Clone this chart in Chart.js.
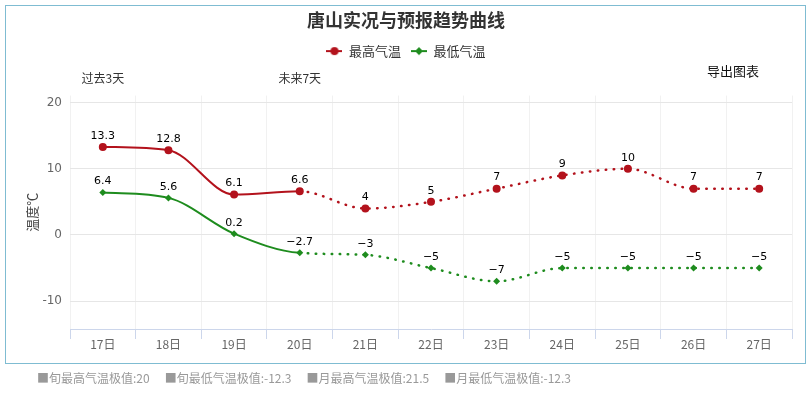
<!DOCTYPE html>
<html lang="zh">
<head>
<meta charset="utf-8">
<title>唐山实况与预报趋势曲线</title>
<script src="https://cdn.jsdelivr.net/npm/chart.js@4.4.1/dist/chart.umd.min.js"></script>
<style>
  html, body { margin: 0; padding: 0; background: #fff; }
  #wrap { position: relative; width: 812px; height: 393px; overflow: hidden; }
  #frame { position: absolute; left: 5px; top: 5px; width: 799px; height: 357px; border: 1px solid #7fbcd2; }
  #box { position: absolute; left: 0; top: 0; width: 812px; height: 393px; }
  #export { position: absolute; left: 707px; top: 61px; font: 13px "Noto Sans CJK SC", sans-serif; color: #111; }
  #notes { position: absolute; left: 37px; top: 369px; font: 12px "Noto Sans CJK SC", sans-serif; color: #999; white-space: nowrap; }
  #notes span { margin-right: 15px; }
</style>
</head>
<body>
<div id="wrap">
  <div id="frame"></div>
  <div id="box"><canvas id="myChart"></canvas></div>
  <div id="export">导出图表</div>
  <div id="notes"></div>
</div>
<script>
// 数据
const days = ['17日', '18日', '19日', '20日', '21日', '22日', '23日', '24日', '25日', '26日', '27日'];
const periodMarks = ['过去3天', '', '', '未来7天', '', '', '', '', '', '', ''];
const highTemps = [13.3, 12.8, 6.1, 6.6, 4, 5, 7, 9, 10, 7, 7];
const lowTemps = [6.4, 5.6, 0.2, -2.7, -3, -5, -7, -5, -5, -5, -5];
const yTicks = [-10, 0, 10, 20];
const observedCount = 4; // 17~20日实况，之后为预报(虚线)
const extremeNotes = ['旬最高气温极值:20', '旬最低气温极值:-12.3', '月最高气温极值:21.5', '月最低气温极值:-12.3'];

const RED = '#b3121c';
const GREEN = '#1e8c1e';
const CJK = '"Noto Sans CJK SC", sans-serif';

document.getElementById('notes').innerHTML =
    extremeNotes.map(t => '<span>■' + t + '</span>').join('');

Chart.defaults.font.family = CJK;

// 图例小图标：一段线加标记
function legendIcon(color, shape) {
    const c = document.createElement('canvas');
    c.width = 16; c.height = 10;
    const g = c.getContext('2d');
    g.strokeStyle = color;
    g.lineWidth = 2;
    g.beginPath(); g.moveTo(0, 5); g.lineTo(16, 5); g.stroke();
    g.fillStyle = color;
    g.beginPath();
    if (shape === 'circle') {
        g.arc(8, 5, 4, 0, Math.PI * 2);
    } else {
        g.moveTo(8, 1); g.lineTo(12, 5); g.lineTo(8, 9); g.lineTo(4, 5); g.closePath();
    }
    g.fill();
    return c;
}
const legendIcons = [legendIcon(RED, 'circle'), legendIcon(GREEN, 'diamond')];

// 数据标签
const valueLabels = {
    id: 'valueLabels',
    afterDatasetsDraw(chart) {
        const ctx = chart.ctx;
        ctx.save();
        ctx.font = '11px "DejaVu Sans", sans-serif';
        ctx.fillStyle = '#000';
        ctx.textAlign = 'center';
        ctx.textBaseline = 'middle';
        chart.data.datasets.forEach((ds, i) => {
            chart.getDatasetMeta(i).data.forEach((pt, j) => {
                ctx.fillText(String(ds.data[j]).replace('-', '\u2212'), pt.x, pt.y - 11);
            });
        });
        ctx.restore();
    }
};

// 预报段用点线
const isForecast = ctx => ctx.p0DataIndex >= observedCount - 1;
const forecastSegment = {
    borderDash: ctx => isForecast(ctx) ? [0.5, 7.5] : undefined,
    borderWidth: ctx => isForecast(ctx) ? 2.5 : undefined
};

new Chart(document.getElementById('myChart'), {
    type: 'line',
    data: {
        labels: days,
        datasets: [{
            label: '最高气温',
            data: highTemps,
            borderColor: RED,
            backgroundColor: RED,
            borderWidth: 2,
            borderCapStyle: 'round',
            pointStyle: 'circle',
            pointRadius: 4,
            pointBorderWidth: 0,
            cubicInterpolationMode: 'monotone',
            segment: forecastSegment
        }, {
            label: '最低气温',
            data: lowTemps,
            borderColor: GREEN,
            backgroundColor: GREEN,
            borderWidth: 2,
            borderCapStyle: 'round',
            pointStyle: 'rectRot',
            pointRadius: 3.5,
            pointBorderWidth: 0,
            cubicInterpolationMode: 'monotone',
            segment: forecastSegment
        }]
    },
    options: {
        responsive: true,
        maintainAspectRatio: false,
        animation: false,
        layout: { padding: { left: 20, right: 20, top: 0, bottom: 38 } },
        plugins: {
            title: {
                display: true,
                text: '唐山实况与预报趋势曲线',
                color: '#333',
                font: { size: 18, weight: 'bold' },
                padding: { top: 9, bottom: 4 }
            },
            legend: {
                display: true,
                labels: {
                    usePointStyle: true,
                    pointStyleWidth: 16,
                    color: '#333',
                    font: { size: 13 },
                    padding: 10,
                    generateLabels(chart) {
                        const items = Chart.defaults.plugins.legend.labels.generateLabels(chart);
                        items.forEach((it, i) => { it.pointStyle = legendIcons[i]; });
                        return items;
                    }
                }
            },
            tooltip: { enabled: false }
        },
        scales: {
            x: {
                type: 'category',
                position: 'bottom',
                offset: true,
                grid: { offset: true, color: '#f1f1f1', tickColor: '#ccd6eb', tickLength: 10 },
                border: { display: true, color: '#ccd6eb' },
                ticks: { color: '#666', font: { size: 12 }, padding: -2, autoSkip: false, maxRotation: 0 },
                afterFit(s) { s.height = 26; }
            },
            x2: {
                type: 'category',
                labels: periodMarks,
                position: 'top',
                offset: true,
                grid: { display: false, drawTicks: false },
                border: { display: false },
                ticks: { color: '#333', font: { size: 12 }, padding: 10, autoSkip: false, maxRotation: 0 },
                afterFit(s) { s.height = 28; }
            },
            y: {
                min: -14.2,
                max: 21.05,
                afterBuildTicks(s) { s.ticks = yTicks.map(v => ({ value: v })); },
                grid: { color: '#e6e6e6', drawTicks: false },
                border: { display: false },
                ticks: { color: '#666', font: { size: 12, family: '"DejaVu Sans", sans-serif' }, padding: 8 },
                title: { display: true, text: '温度℃', color: '#444', font: { size: 13 }, padding: { top: 4, bottom: 0 } },
                afterFit(s) { s.width = 50; }
            }
        }
    },
    plugins: [valueLabels]
});
</script>
</body>
</html>
